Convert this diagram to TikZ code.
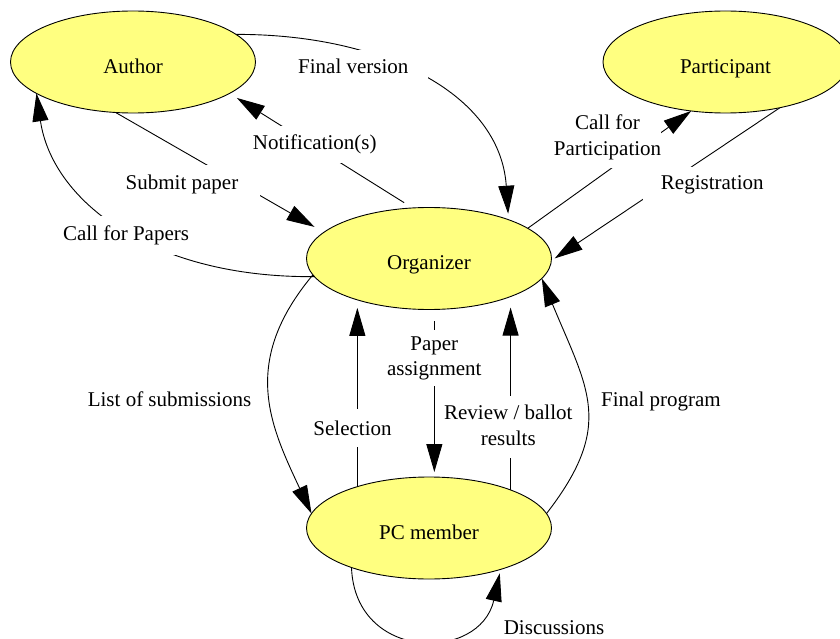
\documentclass[tikz,border=0pt]{standalone}
\usepackage{fontspec}
\setmainfont{Liberation Serif}
\usetikzlibrary{shapes.geometric,arrows.meta}
\definecolor{statefill}{RGB}{255,255,128}
\pgfdeclarelayer{front}
\pgfsetlayers{main,front}
\newcommand\diagfont{\fontsize{21pt}{25.8pt}\selectfont}
\newcommand\twoline[2]{\begin{tabular}[t]{@{}c@{}}#1\\#2\end{tabular}}
\begin{document}
\begin{tikzpicture}[x=1pt,y=-1pt,
  every node/.style={font=\diagfont},
  state/.style={ellipse, draw, fill=statefill, line width=0.9pt,
    minimum width=245pt, minimum height=102pt, inner sep=0pt, outer sep=0pt,
    text height=22.6pt, text depth=0pt},
  flow/.style={line width=0.9pt, -{Triangle[length=28pt,width=16pt]}},
  lbl/.style={fill=white, anchor=base, inner sep=0pt},
]
\useasboundingbox (0,0) rectangle (840,639);
\clip (0,0) rectangle (840,639);

% the four roles, drawn above the connectors
\begin{pgfonlayer}{front}
\node[state] (author) at (133,62)    {Author};
\node[state] (part)   at (725.5,62)  {Participant};
\node[state] (org)    at (429,258.5) {Organizer};
\node[state] (pc)     at (429,528)   {PC member};
\end{pgfonlayer}

% connectors
\draw[flow] (org.189) .. controls (150,278) and (52,200) .. (author.198);
\draw[flow, shorten >=10.8pt] (author.251) -- (org.166);
\draw[flow, shorten <=10pt, shorten >=8.6pt] (org.108) -- (author.342);
\draw[flow, shorten >=6pt] (author.15) .. controls (380,34) and (500,92) .. (org.26);
\draw[flow] (org.17) -- (part.235);
\draw[flow, shorten >=4pt] (part.320) -- (org.359);
\draw[flow] (org.188) .. controls (240,362) and (270,425) .. (pc.173);
\draw[flow, shorten >=8pt] (pc.150) -- (pc.150 |- org.210);
\draw[flow, shorten <=12pt, shorten >=5pt] (org.276) -- (org.276 |- pc.84);
\draw[flow, shorten >=11pt] (pc.25) -- (pc.25 |- org.335);
\draw[flow] (pc.7) .. controls (615,425) and (588,390) .. (org.350);
\draw[flow, shorten >=4pt] (pc.207) .. controls (355,662) and (480,662) .. (pc.330);

% connector labels
\node[lbl, inner ysep=10pt] (lcfp) at (126,240.7) {Call for Papers};
\node[lbl, inner xsep=22pt, inner ysep=9.5pt] (lsub) at (182,189.3) {Submit paper};
\node[lbl, inner ysep=9pt] (lnot) at (314.7,150) {Notification(s)};
\node[lbl, inner xsep=20pt, inner ysep=9pt] (lfin) at (353.3,74) {Final version};
\node[lbl, inner ysep=5pt] (lcfpart) at (607.5,129.3) {\twoline{Call for}{Participation}};
\node[lbl, inner xsep=18pt, inner ysep=8pt] (lreg) at (712.3,189.3) {Registration};
\node[lbl] (llist) at (169.5,406.7) {List of submissions};
\node[lbl, inner ysep=11.7pt] (lsel) at (352.5,435) {Selection};
\node[lbl, inner ysep=2pt] (lpa) at (434.3,350) {\twoline{Paper}{assignment}};
\node[lbl, inner ysep=5pt] (lrev) at (508.3,419.3) {\twoline{Review / ballot}{results}};
\node[lbl] (lprog) at (661,406.7) {Final program};
\node[lbl] (ldisc) at (554,634.3) {Discussions};
\end{tikzpicture}
\end{document}
